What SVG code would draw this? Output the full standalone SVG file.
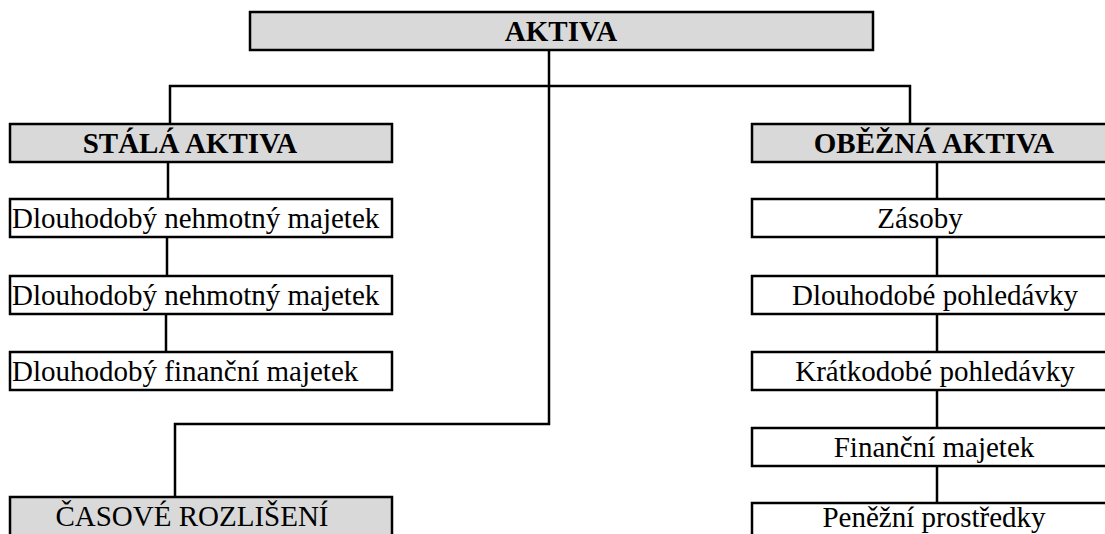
<svg xmlns="http://www.w3.org/2000/svg" width="1105" height="534" viewBox="0 0 1105 534">
<style>
.box{stroke:#000;stroke-width:2.5;}
.g{fill:#d9d9d9;}
.w{fill:#fff;}
.t{font-family:"Liberation Serif","Times New Roman",serif;font-size:29px;fill:#000;}
.b{font-weight:bold;}
.c{text-anchor:middle;}
.ln{stroke:#000;stroke-width:2.5;fill:none;}
</style>
<rect width="1105" height="534" fill="#fff"/>
<g id="connectors">
<path class="ln" d="M549 50 V424 H175 V497"/>
<path class="ln" d="M170 124 V86 H910 V124"/>
<path class="ln" d="M168 162 V199"/>
<path class="ln" d="M167 237 V276"/>
<path class="ln" d="M166 314 V352"/>
<path class="ln" d="M937 162 V199"/>
<path class="ln" d="M937 237 V276"/>
<path class="ln" d="M937 314 V352"/>
<path class="ln" d="M937 390 V428"/>
<path class="ln" d="M937 466 V503"/>
</g>
<g id="aktiva"><rect class="box g" x="250" y="12" width="623" height="38"/><text class="t b c" x="561" y="41">AKTIVA</text></g>
<g id="stala"><rect class="box g" x="10" y="124" width="382" height="38"/><text class="t b c" x="190" y="153">STÁLÁ AKTIVA</text></g>
<g id="dnm1"><rect class="box w" x="10" y="199" width="382" height="38"/><text class="t" x="12" y="228">Dlouhodobý nehmotný majetek</text></g>
<g id="dnm2"><rect class="box w" x="10" y="276" width="382" height="38"/><text class="t" x="12" y="305">Dlouhodobý nehmotný majetek</text></g>
<g id="dfm"><rect class="box w" x="10" y="352" width="382" height="38"/><text class="t" x="12" y="381">Dlouhodobý finanční majetek</text></g>
<g id="casove"><rect class="box g" x="10" y="497" width="382" height="50"/><text class="t c" x="192" y="526">ČASOVÉ ROZLIŠENÍ</text></g>
<g id="obezna"><rect class="box g" x="752" y="124" width="370" height="38"/><text class="t b c" x="934" y="153">OBĚŽNÁ AKTIVA</text></g>
<g id="zasoby"><rect class="box w" x="752" y="199" width="370" height="38"/><text class="t c" x="920" y="228">Zásoby</text></g>
<g id="dp"><rect class="box w" x="752" y="276" width="370" height="38"/><text class="t c" x="935" y="305">Dlouhodobé pohledávky</text></g>
<g id="kp"><rect class="box w" x="752" y="352" width="370" height="38"/><text class="t c" x="935" y="381">Krátkodobé pohledávky</text></g>
<g id="fm"><rect class="box w" x="752" y="428" width="370" height="38"/><text class="t c" x="934" y="457">Finanční majetek</text></g>
<g id="pp"><rect class="box w" x="752" y="503" width="370" height="50"/><text class="t c" x="934" y="527">Peněžní prostředky</text></g>
</svg>
